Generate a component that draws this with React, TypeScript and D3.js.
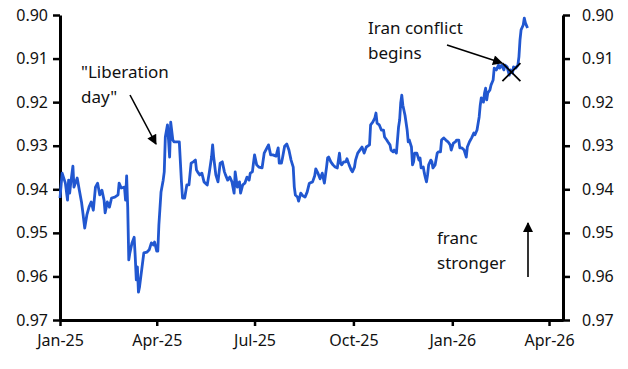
import React, { useRef, useEffect } from "react";
import * as d3 from "d3";

// EUR/CHF-style series, inverted axis (franc stronger = up)
const dates = [
  "2025-01-01","2025-01-03","2025-01-06","2025-01-08","2025-01-09","2025-01-10","2025-01-11","2025-01-13","2025-01-14","2025-01-17",
  "2025-01-19","2025-01-21","2025-01-22","2025-01-24","2025-01-26","2025-01-28","2025-01-30","2025-02-01","2025-02-03","2025-02-05",
  "2025-02-07","2025-02-09","2025-02-11","2025-02-12","2025-02-14","2025-02-16","2025-02-18","2025-02-21","2025-02-24","2025-02-25",
  "2025-02-27","2025-03-02","2025-03-03","2025-03-04","2025-03-05","2025-03-06","2025-03-07","2025-03-09","2025-03-11","2025-03-12",
  "2025-03-13","2025-03-14","2025-03-15","2025-03-16","2025-03-18","2025-03-20","2025-03-23","2025-03-25","2025-03-27","2025-03-29",
  "2025-03-30","2025-04-01","2025-04-02","2025-04-03","2025-04-05","2025-04-07","2025-04-08","2025-04-09","2025-04-11","2025-04-12",
  "2025-04-13","2025-04-14","2025-04-16","2025-04-17","2025-04-22","2025-04-24","2025-04-25","2025-04-27","2025-04-29","2025-05-01",
  "2025-05-03","2025-05-05","2025-05-07","2025-05-08","2025-05-09","2025-05-11","2025-05-13","2025-05-15","2025-05-18","2025-05-20",
  "2025-05-22","2025-05-23","2025-05-24","2025-05-26","2025-05-28","2025-05-30","2025-06-01","2025-06-03","2025-06-04","2025-06-06",
  "2025-06-08","2025-06-10","2025-06-12","2025-06-13","2025-06-15","2025-06-17","2025-06-18","2025-06-20","2025-06-22","2025-06-24",
  "2025-06-26","2025-06-27","2025-06-29","2025-06-30","2025-07-01","2025-07-03","2025-07-05","2025-07-08","2025-07-10","2025-07-13",
  "2025-07-14","2025-07-16","2025-07-18","2025-07-21","2025-07-23","2025-07-24","2025-07-26","2025-07-27","2025-07-29","2025-07-31",
  "2025-08-02","2025-08-04","2025-08-06","2025-08-07","2025-08-08","2025-08-10","2025-08-11","2025-08-13","2025-08-15","2025-08-17",
  "2025-08-19","2025-08-21","2025-08-24","2025-08-26","2025-08-27","2025-08-29","2025-08-31","2025-09-02","2025-09-04","2025-09-06",
  "2025-09-07","2025-09-08","2025-09-10","2025-09-12","2025-09-14","2025-09-16","2025-09-18","2025-09-19","2025-09-20","2025-09-22",
  "2025-09-24","2025-09-25","2025-09-27","2025-09-29","2025-09-30","2025-10-02","2025-10-03","2025-10-05","2025-10-07","2025-10-09",
  "2025-10-11","2025-10-13","2025-10-16","2025-10-17","2025-10-19","2025-10-21","2025-10-22","2025-10-23","2025-10-25","2025-10-27",
  "2025-10-29","2025-10-30","2025-11-01","2025-11-02","2025-11-04","2025-11-05","2025-11-07","2025-11-08","2025-11-10","2025-11-12",
  "2025-11-13","2025-11-14","2025-11-15","2025-11-16","2025-11-18","2025-11-20","2025-11-21","2025-11-22","2025-11-24","2025-11-25",
  "2025-11-26","2025-11-27","2025-11-29","2025-12-01","2025-12-02","2025-12-03","2025-12-05","2025-12-06","2025-12-07","2025-12-08",
  "2025-12-09","2025-12-10","2025-12-12","2025-12-13","2025-12-14","2025-12-16","2025-12-18","2025-12-19","2025-12-21","2025-12-22",
  "2025-12-24","2025-12-26","2025-12-28","2025-12-30","2025-12-31","2026-01-02","2026-01-04","2026-01-05","2026-01-07","2026-01-08",
  "2026-01-10","2026-01-12","2026-01-14","2026-01-15","2026-01-17","2026-01-19","2026-01-21","2026-01-22","2026-01-24","2026-01-26",
  "2026-01-27","2026-01-28","2026-01-30","2026-01-31","2026-02-01","2026-02-02","2026-02-03","2026-02-05","2026-02-06","2026-02-08",
  "2026-02-09","2026-02-11","2026-02-13","2026-02-14","2026-02-16","2026-02-18","2026-02-19","2026-02-21","2026-02-23","2026-02-24",
  "2026-02-26","2026-02-27","2026-03-01","2026-03-03","2026-03-04","2026-03-05","2026-03-06","2026-03-08","2026-03-09","2026-03-10",
  "2026-03-12"
];

const rates = [
  0.9420,0.9363,0.9386,0.9425,0.9379,0.9409,0.9386,0.9347,0.9395,0.9374,
  0.9402,0.9429,0.9448,0.9489,0.9459,0.9441,0.9429,0.9448,0.9395,0.9386,
  0.9413,0.9402,0.9425,0.9454,0.9429,0.9441,0.9420,0.9418,0.9413,0.9386,
  0.9397,0.9395,0.9425,0.9369,0.9441,0.9562,0.9546,0.9523,0.9510,0.9555,
  0.9608,0.9578,0.9636,0.9624,0.9585,0.9546,0.9544,0.9539,0.9523,0.9528,
  0.9521,0.9542,0.9542,0.9482,0.9406,0.9379,0.9360,0.9280,0.9252,0.9287,
  0.9326,0.9246,0.9287,0.9291,0.9291,0.9383,0.9420,0.9420,0.9390,0.9390,
  0.9340,0.9337,0.9333,0.9356,0.9360,0.9367,0.9363,0.9383,0.9390,0.9360,
  0.9326,0.9298,0.9326,0.9367,0.9383,0.9340,0.9337,0.9360,0.9367,0.9379,
  0.9372,0.9383,0.9409,0.9360,0.9395,0.9383,0.9409,0.9390,0.9386,0.9372,
  0.9379,0.9363,0.9360,0.9340,0.9321,0.9344,0.9349,0.9351,0.9317,0.9303,
  0.9298,0.9321,0.9321,0.9324,0.9305,0.9340,0.9340,0.9328,0.9301,0.9296,
  0.9310,0.9333,0.9349,0.9395,0.9413,0.9418,0.9427,0.9409,0.9415,0.9418,
  0.9406,0.9386,0.9383,0.9369,0.9353,0.9363,0.9376,0.9363,0.9386,0.9349,
  0.9328,0.9326,0.9337,0.9344,0.9349,0.9351,0.9317,0.9340,0.9344,0.9337,
  0.9337,0.9330,0.9344,0.9356,0.9360,0.9349,0.9333,0.9317,0.9310,0.9303,
  0.9317,0.9303,0.9298,0.9252,0.9246,0.9236,0.9225,0.9248,0.9252,0.9264,
  0.9264,0.9280,0.9287,0.9291,0.9298,0.9310,0.9314,0.9310,0.9317,0.9257,
  0.9241,0.9202,0.9184,0.9207,0.9230,0.9264,0.9291,0.9287,0.9303,0.9344,
  0.9337,0.9317,0.9317,0.9333,0.9328,0.9351,0.9349,0.9363,0.9374,0.9383,
  0.9367,0.9344,0.9333,0.9337,0.9351,0.9344,0.9317,0.9314,0.9314,0.9287,
  0.9282,0.9287,0.9291,0.9298,0.9310,0.9294,0.9291,0.9287,0.9287,0.9305,
  0.9305,0.9310,0.9326,0.9303,0.9291,0.9282,0.9271,0.9275,0.9264,0.9234,
  0.9207,0.9190,0.9200,0.9179,0.9168,0.9195,0.9179,0.9172,0.9161,0.9149,
  0.9122,0.9126,0.9115,0.9122,0.9115,0.9126,0.9115,0.9119,0.9138,0.9126,
  0.9133,0.9119,0.9122,0.9115,0.9096,0.9057,0.9034,0.9023,0.9007,0.9018,
  0.9030
];

const yTicks = [0.90, 0.91, 0.92, 0.93, 0.94, 0.95, 0.96, 0.97];
const xTickDates = ["2025-01-01", "2025-04-01", "2025-07-01", "2025-10-01", "2026-01-01", "2026-04-01"];
const xTickLabels = ["Jan-25", "Apr-25", "Jul-25", "Oct-25", "Jan-26", "Apr-26"];

const FONT = "'Noto Sans', sans-serif";

const App = () => {
  const svgRef = useRef<SVGSVGElement>(null);

  useEffect(() => {
    const width = 628;
    const height = 369;
    const marginTop = 15;
    const marginBottom = 49;
    const marginLeft = 60;
    const marginRight = 65;

    const parse = d3.utcParse("%Y-%m-%d");
    const data = dates.map((d, i) => ({ date: parse(d) as Date, value: rates[i] }));

    const x = d3.scaleUtc()
      .domain([parse("2025-01-01") as Date, parse("2026-04-14") as Date])
      .range([marginLeft, width - marginRight]);

    const y = d3.scaleLinear()
      .domain([0.90, 0.97])
      .range([marginTop, height - marginBottom]);

    const svg = d3.select(svgRef.current);
    svg.selectAll("*").remove();

    const defs = svg.append("defs");
    defs.append("marker")
      .attr("id", "arrowhead")
      .attr("viewBox", "0 0 10 10")
      .attr("refX", 9)
      .attr("refY", 5)
      .attr("markerWidth", 11)
      .attr("markerHeight", 10)
      .attr("markerUnits", "userSpaceOnUse")
      .attr("orient", "auto")
      .append("path")
      .attr("d", "M0,0 L10,5 L0,10 z")
      .attr("fill", "#000");

    const styleAxis = (g) => {
      g.select(".domain").attr("stroke", "#000").attr("stroke-width", 3);
      g.selectAll(".tick line").attr("stroke", "#000").attr("stroke-width", 2.5);
      g.selectAll(".tick text")
        .attr("fill", "#111")
        .style("font-family", FONT)
        .style("font-size", "16px");
    };

    // left axis
    svg.append("g")
      .attr("transform", `translate(${marginLeft},0)`)
      .call(d3.axisLeft(y).tickValues(yTicks).tickFormat(d3.format(".2f")).tickSize(7).tickSizeOuter(0).tickPadding(5))
      .call(styleAxis);

    // right axis
    svg.append("g")
      .attr("transform", `translate(${width - marginRight},0)`)
      .call(d3.axisRight(y).tickValues(yTicks).tickFormat(d3.format(".2f")).tickSize(7).tickSizeOuter(0).tickPadding(12))
      .call(styleAxis);

    // bottom axis
    const xTicks = xTickDates.map(d => parse(d) as Date);
    svg.append("g")
      .attr("transform", `translate(0,${height - marginBottom})`)
      .call(d3.axisBottom(x).tickValues(xTicks).tickFormat((d, i) => xTickLabels[i]).tickSize(6).tickSizeOuter(0).tickPadding(9))
      .call(styleAxis);

    const line = d3.line<{ date: Date; value: number }>()
      .x(d => x(d.date))
      .y(d => y(d.value));

    svg.append("path")
      .datum(data)
      .attr("fill", "none")
      .attr("stroke", "#2157d0")
      .attr("stroke-width", 2.8)
      .attr("stroke-linejoin", "round")
      .attr("d", line);

    const ann = svg.append("g")
      .style("font-family", FONT)
      .style("font-size", "17px")
      .attr("fill", "#111");

    // "Liberation day"
    ann.append("text").attr("x", 81).attr("y", 78).text("\"Liberation");
    ann.append("text").attr("x", 81).attr("y", 103).text("day\"");
    ann.append("line")
      .attr("x1", 130).attr("y1", 95)
      .attr("x2", 156).attr("y2", 144)
      .attr("stroke", "#000").attr("stroke-width", 1.6)
      .attr("marker-end", "url(#arrowhead)");

    // Iran conflict
    ann.append("text").attr("x", 368).attr("y", 34).text("Iran conflict");
    ann.append("text").attr("x", 368).attr("y", 59).text("begins");
    ann.append("line")
      .attr("x1", 447).attr("y1", 45)
      .attr("x2", 502).attr("y2", 63)
      .attr("stroke", "#000").attr("stroke-width", 1.6)
      .attr("marker-end", "url(#arrowhead)");

    const cx = x(parse("2026-02-25") as Date);
    const cy = y(0.9131);
    ann.append("path")
      .attr("d", `M${cx - 9},${cy - 9}L${cx + 9},${cy + 9}M${cx - 9},${cy + 9}L${cx + 9},${cy - 9}`)
      .attr("stroke", "#000").attr("stroke-width", 1.8);

    // franc stronger
    ann.append("text").attr("x", 437).attr("y", 244).text("franc");
    ann.append("text").attr("x", 437).attr("y", 269).text("stronger");
    ann.append("line")
      .attr("x1", 528).attr("y1", 277)
      .attr("x2", 528).attr("y2", 223)
      .attr("stroke", "#000").attr("stroke-width", 1.6)
      .attr("marker-end", "url(#arrowhead)");
  }, []);

  return (
    <svg
      ref={svgRef}
      width={628}
      height={369}
      style={{ position: "absolute", left: 0, top: 0, background: "#fff" }}
    />
  );
};

export default App;
